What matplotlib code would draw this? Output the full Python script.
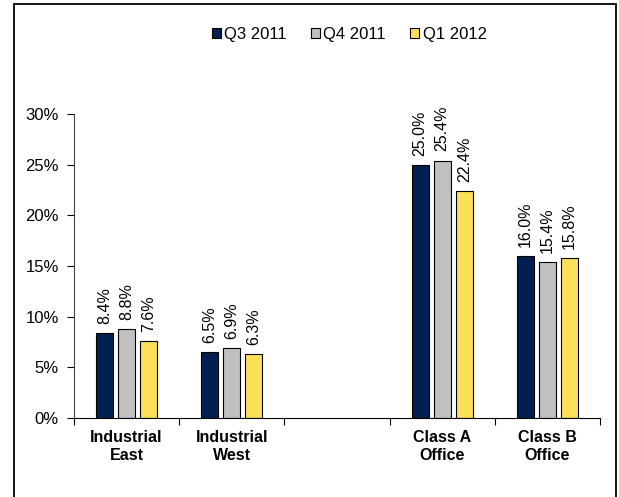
import numpy as np
import matplotlib.pyplot as plt
from matplotlib.patches import Rectangle

plt.rcParams["font.family"] = ["Liberation Sans", "DejaVu Sans"]

categories = ["Industrial\nEast", "Industrial\nWest", "", "Class A\nOffice", "Class B\nOffice"]
series = ["Q3 2011", "Q4 2011", "Q1 2012"]
q3_2011 = [8.4, 6.5, None, 25.0, 16.0]
q4_2011 = [8.8, 6.9, None, 25.4, 15.4]
q1_2012 = [7.6, 6.3, None, 22.4, 15.8]
colors = ["#002052", "#C0C0C0", "#FCE05A"]

fig = plt.figure(figsize=(6.19, 4.97), dpi=100)
ax = fig.add_axes([74 / 619, 1 - 418 / 497, 526 / 619, 304 / 497])

x = np.arange(len(categories))
width = 0.16
step = 0.21
for k, (name, vals, col) in enumerate(zip(series, [q3_2011, q4_2011, q1_2012], colors)):
    xs = [xi + (k - 1) * step for xi, v in zip(x, vals) if v is not None]
    vs = [v for v in vals if v is not None]
    bars = ax.bar(xs, vs, width, color=col, edgecolor="black", linewidth=0.8, label=name)
    for xb, v in zip(xs, vs):
        ax.text(xb, v + 0.9, f"{v:.1f}%", rotation=90, ha="center", va="bottom", fontsize=11.5)

ax.set_xlim(-0.5, len(categories) - 0.5)
ax.set_ylim(0, 30)
ax.set_yticks(np.arange(0, 31, 5))
ax.set_yticklabels([f"{v}%" for v in range(0, 31, 5)], fontsize=12)
ax.set_xticks(x)
ax.set_xticklabels(categories, fontsize=11.5, fontweight="bold", linespacing=1.25)
ax.set_xticks(np.arange(-0.5, len(categories)), minor=True)
ax.tick_params(axis="x", which="major", length=0, pad=9)
ax.tick_params(axis="x", which="minor", length=5, direction="out", width=0.8)
ax.tick_params(axis="y", length=5, width=0.8, direction="out", pad=6)
for s in ["top", "right"]:
    ax.spines[s].set_visible(False)
ax.spines["left"].set_color("#444444")
ax.spines["left"].set_linewidth(0.8)
ax.spines["bottom"].set_linewidth(0.8)

fig.legend(loc="center", bbox_to_anchor=(0.564, 0.931), ncol=3, frameon=False,
           fontsize=12, handlelength=0.55, handleheight=0.55, handletextpad=0.2,
           columnspacing=1.45)

fig.patches.append(Rectangle((14 / 619, -0.05), 602 / 619, 1.05 - 4 / 497,
                             transform=fig.transFigure, fill=False,
                             edgecolor="black", linewidth=1.3))

fig.savefig("out.png", dpi=100)
